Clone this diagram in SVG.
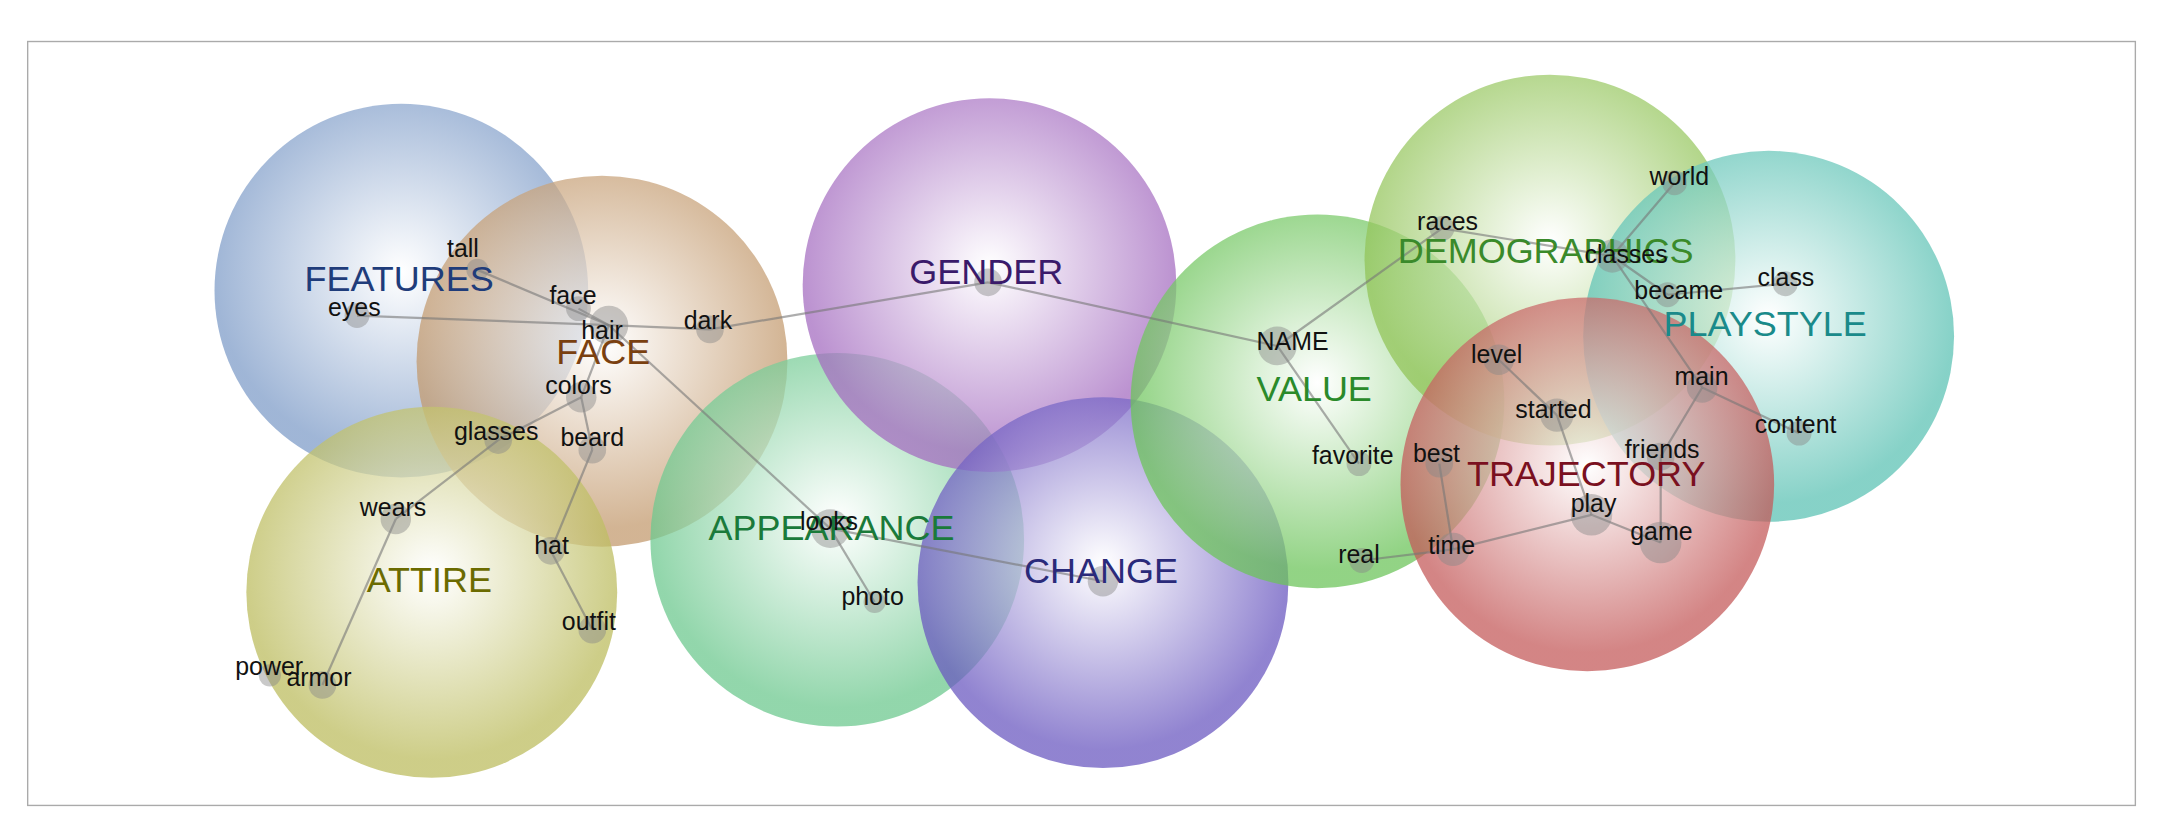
<svg xmlns="http://www.w3.org/2000/svg" width="2163" height="823" viewBox="0 0 2163 823">
<style>
.w{font-family:"Liberation Sans",Arial,sans-serif;font-size:18px;fill:#111}
.c{font-family:"Liberation Sans",Arial,sans-serif;font-size:26px}
.d{fill:#888;fill-opacity:0.45}
.e line{stroke:#777;stroke-opacity:0.6;stroke-width:1.6}
.b{opacity:0.74}
</style>
<defs>
<radialGradient id="gBlue" cx="0.5" cy="0.45" r="0.5"><stop offset="0" stop-color="#fff"/><stop offset="1" stop-color="#7e9cc8"/></radialGradient>
<radialGradient id="gTan" cx="0.5" cy="0.45" r="0.5"><stop offset="0" stop-color="#fff"/><stop offset="1" stop-color="#c39a6e"/></radialGradient>
<radialGradient id="gOlive" cx="0.5" cy="0.45" r="0.5"><stop offset="0" stop-color="#fff"/><stop offset="1" stop-color="#bcbc5e"/></radialGradient>
<radialGradient id="gMint" cx="0.5" cy="0.45" r="0.5"><stop offset="0" stop-color="#fff"/><stop offset="1" stop-color="#6cc88e"/></radialGradient>
<radialGradient id="gPurple" cx="0.5" cy="0.45" r="0.5"><stop offset="0" stop-color="#fff"/><stop offset="1" stop-color="#a46cc0"/></radialGradient>
<radialGradient id="gViolet" cx="0.5" cy="0.45" r="0.5"><stop offset="0" stop-color="#fff"/><stop offset="1" stop-color="#6a58c0"/></radialGradient>
<radialGradient id="gGreen" cx="0.5" cy="0.45" r="0.5"><stop offset="0" stop-color="#fff"/><stop offset="1" stop-color="#6cc45a"/></radialGradient>
<radialGradient id="gLime" cx="0.5" cy="0.45" r="0.5"><stop offset="0" stop-color="#fff"/><stop offset="1" stop-color="#92c458"/></radialGradient>
<radialGradient id="gTeal" cx="0.5" cy="0.45" r="0.5"><stop offset="0" stop-color="#fff"/><stop offset="1" stop-color="#5cc2b4"/></radialGradient>
<radialGradient id="gRed" cx="0.5" cy="0.45" r="0.5"><stop offset="0" stop-color="#fff"/><stop offset="1" stop-color="#c45a5a"/></radialGradient>
</defs>
<rect width="2163" height="823" fill="#fff"/>
<g transform="scale(1.3839)">
<rect x="20" y="30" width="1523" height="552" fill="none" stroke="#aaa" stroke-width="1"/>
<g id="FEATURES" class="b"><circle cx="290" cy="210" r="135" fill="url(#gBlue)"/></g>
<g id="FACE" class="b"><circle cx="435" cy="261" r="134" fill="url(#gTan)"/></g>
<g id="ATTIRE" class="b"><circle cx="312" cy="428" r="134" fill="url(#gOlive)"/></g>
<g id="APPEARANCE" class="b"><circle cx="605" cy="390" r="135" fill="url(#gMint)"/></g>
<g id="GENDER" class="b"><circle cx="715" cy="206" r="135" fill="url(#gPurple)"/></g>
<g id="CHANGE" class="b"><circle cx="797" cy="421" r="134" fill="url(#gViolet)"/></g>
<g id="VALUE" class="b"><circle cx="952" cy="290" r="135" fill="url(#gGreen)"/></g>
<g id="DEMOGRAPHICS" class="b"><circle cx="1120" cy="188" r="134" fill="url(#gLime)"/></g>
<g id="PLAYSTYLE" class="b"><circle cx="1278" cy="243" r="134" fill="url(#gTeal)"/></g>
<g id="TRAJECTORY" class="b"><circle cx="1147" cy="350" r="135" fill="url(#gRed)"/></g>
<g id="connectors" class="e">
<line x1="345" y1="195" x2="440" y2="235"/>
<line x1="258" y1="228" x2="440" y2="235"/>
<line x1="418" y1="223" x2="440" y2="235"/>
<line x1="440" y1="235" x2="513" y2="238"/>
<line x1="513" y1="238" x2="714" y2="204"/>
<line x1="714" y1="204" x2="923" y2="250"/>
<line x1="923" y1="250" x2="1042" y2="165"/>
<line x1="923" y1="250" x2="982" y2="335"/>
<line x1="440" y1="235" x2="420" y2="287"/>
<line x1="420" y1="287" x2="360" y2="318"/>
<line x1="360" y1="318" x2="286" y2="375"/>
<line x1="286" y1="375" x2="233" y2="495"/>
<line x1="420" y1="287" x2="428" y2="325"/>
<line x1="428" y1="325" x2="398" y2="398"/>
<line x1="398" y1="398" x2="428" y2="455"/>
<line x1="440" y1="235" x2="600" y2="382"/>
<line x1="600" y1="382" x2="632" y2="435"/>
<line x1="600" y1="382" x2="797" y2="420"/>
<line x1="1042" y1="165" x2="1165" y2="185"/>
<line x1="1165" y1="185" x2="1210" y2="132"/>
<line x1="1165" y1="185" x2="1205" y2="213"/>
<line x1="1205" y1="213" x2="1290" y2="205"/>
<line x1="1165" y1="185" x2="1230" y2="280"/>
<line x1="1230" y1="280" x2="1300" y2="313"/>
<line x1="1230" y1="280" x2="1200" y2="330"/>
<line x1="1200" y1="330" x2="1200" y2="392"/>
<line x1="1083" y1="260" x2="1125" y2="300"/>
<line x1="1125" y1="300" x2="1150" y2="372"/>
<line x1="1150" y1="372" x2="1200" y2="392"/>
<line x1="1150" y1="372" x2="1050" y2="397"/>
<line x1="1050" y1="397" x2="1040" y2="335"/>
<line x1="1050" y1="397" x2="984" y2="405"/>
</g>
<g id="dots">
<circle class="d" cx="345" cy="195" r="8"/><circle class="d" cx="258" cy="228" r="9"/>
<circle class="d" cx="418" cy="223" r="9"/><circle class="d" cx="440" cy="235" r="14"/>
<circle class="d" cx="513" cy="238" r="10"/><circle class="d" cx="420" cy="287" r="11"/>
<circle class="d" cx="360" cy="318" r="10"/><circle class="d" cx="428" cy="325" r="10"/>
<circle class="d" cx="286" cy="375" r="11"/><circle class="d" cx="398" cy="398" r="10"/>
<circle class="d" cx="428" cy="455" r="10"/><circle class="d" cx="195" cy="488" r="8"/>
<circle class="d" cx="233" cy="495" r="10"/><circle class="d" cx="600" cy="382" r="14"/>
<circle class="d" cx="632" cy="435" r="8"/><circle class="d" cx="714" cy="204" r="10"/>
<circle class="d" cx="797" cy="420" r="11"/><circle class="d" cx="923" cy="250" r="14"/>
<circle class="d" cx="982" cy="335" r="9"/><circle class="d" cx="984" cy="405" r="9"/>
<circle class="d" cx="1042" cy="165" r="9"/><circle class="d" cx="1165" cy="185" r="12"/>
<circle class="d" cx="1210" cy="132" r="9"/><circle class="d" cx="1205" cy="213" r="9"/>
<circle class="d" cx="1290" cy="205" r="9"/><circle class="d" cx="1083" cy="260" r="11"/>
<circle class="d" cx="1125" cy="300" r="12"/><circle class="d" cx="1230" cy="280" r="11"/>
<circle class="d" cx="1300" cy="313" r="9"/><circle class="d" cx="1040" cy="335" r="10"/>
<circle class="d" cx="1200" cy="330" r="10"/><circle class="d" cx="1150" cy="372" r="15"/>
<circle class="d" cx="1050" cy="397" r="12"/><circle class="d" cx="1200" cy="392" r="15"/>
</g>
<g id="labels">
<text class="c" x="220" y="210" fill="#1f3c7a">FEATURES</text>
<text class="c" x="402" y="263" fill="#7a4010">FACE</text>
<text class="c" x="265" y="428" fill="#6b6b00">ATTIRE</text>
<text class="c" x="512" y="390" fill="#1a7a3a">APPEARANCE</text>
<text class="c" x="657" y="205" fill="#3a1a6a">GENDER</text>
<text class="c" x="740" y="421" fill="#2a2a7a">CHANGE</text>
<text class="c" x="908" y="290" fill="#2a8a2a">VALUE</text>
<text class="c" x="1010" y="190" fill="#3a8a2a">DEMOGRAPHICS</text>
<text class="c" x="1202" y="243" fill="#1a8a8a">PLAYSTYLE</text>
<text class="c" x="1060" y="351" fill="#7a1020">TRAJECTORY</text>
<text class="w" x="323" y="186">tall</text>
<text class="w" x="237" y="228">eyes</text>
<text class="w" x="397" y="220">face</text>
<text class="w" x="420" y="245">hair</text>
<text class="w" x="494" y="238">dark</text>
<text class="w" x="394" y="285">colors</text>
<text class="w" x="328" y="318">glasses</text>
<text class="w" x="405" y="322">beard</text>
<text class="w" x="260" y="373">wears</text>
<text class="w" x="386" y="400">hat</text>
<text class="w" x="406" y="455">outfit</text>
<text class="w" x="170" y="488">power</text>
<text class="w" x="207" y="496">armor</text>
<text class="w" x="578" y="383">looks</text>
<text class="w" x="608" y="437">photo</text>
<text class="w" x="908" y="253">NAME</text>
<text class="w" x="948" y="335">favorite</text>
<text class="w" x="967" y="407">real</text>
<text class="w" x="1024" y="166">races</text>
<text class="w" x="1145" y="190">classes</text>
<text class="w" x="1192" y="134">world</text>
<text class="w" x="1181" y="216">became</text>
<text class="w" x="1270" y="207">class</text>
<text class="w" x="1063" y="262">level</text>
<text class="w" x="1095" y="302">started</text>
<text class="w" x="1210" y="278">main</text>
<text class="w" x="1268" y="313">content</text>
<text class="w" x="1021" y="334">best</text>
<text class="w" x="1174" y="331">friends</text>
<text class="w" x="1135" y="370">play</text>
<text class="w" x="1032" y="400">time</text>
<text class="w" x="1178" y="390">game</text>
</g>
</g>
</svg>
